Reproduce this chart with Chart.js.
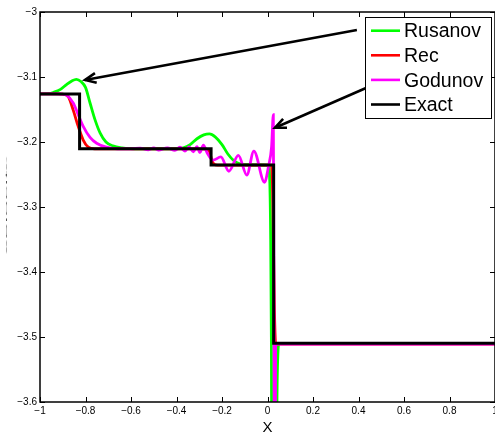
<!DOCTYPE html>
<html><head><meta charset="utf-8">
<script src="https://cdn.jsdelivr.net/npm/chart.js@4/dist/chart.umd.min.js"></script>
<style>
html,body{margin:0;padding:0;overflow:hidden;background:#fff;width:495px;height:439px}
#wrap{width:520px;height:439px;position:relative}
</style>
</head><body><div id="wrap"><canvas id="c" width="520" height="439"></canvas></div>
<script>
// ---- data ----
const seriesNames = ['Rusanov', 'Rec', 'Godunov', 'Exact'];
const seriesColors = ['#00ff00', '#ff0000', '#ff00ff', '#000000'];

const rusanovX = [-1,-0.96,-0.94,-0.91,-0.885,-0.86,-0.84,-0.82,-0.80,-0.78,-0.758,-0.736,-0.71,-0.68,-0.64,-0.56,-0.40,-0.37,-0.34,-0.31,-0.28,-0.255,-0.23,-0.20,-0.175,-0.15,-0.125,-0.09,0.004,0.01,0.014,0.017,0.019,0.038,0.043,0.05,1];
const rusanovY = [-3.1255,-3.1253,-3.1235,-3.119,-3.112,-3.106,-3.1035,-3.107,-3.116,-3.140,-3.166,-3.186,-3.200,-3.206,-3.209,-3.2105,-3.2105,-3.209,-3.204,-3.195,-3.189,-3.1875,-3.192,-3.204,-3.218,-3.228,-3.233,-3.235,-3.2355,-3.26,-3.35,-3.50,-3.70,-3.70,-3.56,-3.51,-3.51];

const recX = [-1,-0.92,-0.90,-0.876,-0.854,-0.832,-0.81,-0.788,-0.76,-0.30,-0.27,-0.255,-0.245,-0.235,-0.22,0.018,0.024,0.030,0.036,1];
const recY = [-3.126,-3.126,-3.1265,-3.130,-3.151,-3.176,-3.197,-3.208,-3.2105,-3.2105,-3.211,-3.215,-3.228,-3.234,-3.2355,-3.2355,-3.30,-3.45,-3.511,-3.511];

const godunovX = [-1,-0.93,-0.90,-0.883,-0.854,-0.832,-0.81,-0.78,-0.751,-0.707,-0.66,-0.60,-0.56,-0.524,-0.50,-0.48,-0.44,-0.407,-0.385,-0.363,-0.345,-0.326,-0.31,-0.297,-0.282,-0.265,-0.24,-0.205,-0.17,-0.128,-0.091,-0.06,-0.013,0.004,0.018,0.0256,0.028,0.030,0.034,0.036,1];
const godunovY = [-3.126,-3.126,-3.1265,-3.128,-3.140,-3.158,-3.176,-3.193,-3.202,-3.208,-3.2105,-3.2105,-3.2095,-3.212,-3.209,-3.2125,-3.209,-3.213,-3.208,-3.214,-3.2075,-3.215,-3.207,-3.216,-3.205,-3.217,-3.228,-3.223,-3.245,-3.2205,-3.251,-3.214,-3.262,-3.238,-3.207,-3.158,-3.40,-3.70,-3.70,-3.511,-3.511];

const exactX = [-1,-0.826,-0.826,-0.248,-0.248,0.027,0.027,1];
const exactY = [-3.126,-3.126,-3.2105,-3.2105,-3.2354,-3.2354,-3.5097,-3.5097];

const xTicks = [-1,-0.8,-0.6,-0.4,-0.2,0,0.2,0.4,0.6,0.8,1];
const yTicks = [-3,-3.1,-3.2,-3.3,-3.4,-3.5,-3.6];
const xTitle = 'X';
const yTitle = 'velocity';

// annotation arrows (data coordinates): tail -> head
const arrowTailX = [0.393, 0.433];
const arrowTailY = [-3.0277, -3.117];
const arrowHeadX = [-0.802, 0.033];
const arrowHeadY = [-3.1046, -3.178];

// ---- build ----
const allX = [rusanovX, recX, godunovX, exactX];
const allY = [rusanovY, recY, godunovY, exactY];
const fmt = v => { const r = Math.round(v * 10) / 10; return (r < 0 ? '\u2212' : '') + String(Math.abs(r)); };
const FONT = '"Liberation Sans", Arial, sans-serif';

const datasets = seriesNames.map((name, i) => ({
  label: name,
  data: allX[i].map((x, j) => ({ x, y: allY[i][j] })),
  borderColor: seriesColors[i],
  backgroundColor: seriesColors[i],
  borderWidth: i === 3 ? 3 : 2.8,
  pointRadius: 0,
  fill: false,
  clip: 0,
  cubicInterpolationMode: i === 3 ? 'default' : 'monotone',
  tension: 0,
  order: 4 - i
}));

const framePlugin = {
  id: 'frame',
  afterDatasetsDraw(chart) {
    const { ctx, chartArea: a, scales } = chart;
    ctx.save();
    ctx.strokeStyle = '#000';
    ctx.lineWidth = 1.5;
    ctx.strokeRect(a.left, a.top, a.right - a.left, a.bottom - a.top);
    ctx.lineWidth = 1;
    const tl = 5;
    scales.x.ticks.forEach(t => {
      const px = Math.round(scales.x.getPixelForValue(t.value)) + 0.5;
      ctx.beginPath();
      ctx.moveTo(px, a.bottom); ctx.lineTo(px, a.bottom - tl);
      ctx.moveTo(px, a.top); ctx.lineTo(px, a.top + tl);
      ctx.stroke();
    });
    scales.y.ticks.forEach(t => {
      const py = Math.round(scales.y.getPixelForValue(t.value)) + 0.5;
      ctx.beginPath();
      ctx.moveTo(a.left, py); ctx.lineTo(a.left + tl, py);
      ctx.moveTo(a.right, py); ctx.lineTo(a.right - tl, py);
      ctx.stroke();
    });
    // arrows
    ctx.strokeStyle = '#000';
    ctx.lineWidth = 2.6;
    ctx.lineCap = 'butt';
    for (let i = 0; i < arrowTailX.length; i++) {
      const x0 = scales.x.getPixelForValue(arrowTailX[i]), y0 = scales.y.getPixelForValue(arrowTailY[i]);
      const x1 = scales.x.getPixelForValue(arrowHeadX[i]), y1 = scales.y.getPixelForValue(arrowHeadY[i]);
      const ang = Math.atan2(y1 - y0, x1 - x0);
      ctx.beginPath(); ctx.moveTo(x0, y0); ctx.lineTo(x1, y1); ctx.stroke();
      const hl = 12, ha = 0.42;
      ctx.beginPath();
      ctx.moveTo(x1 - hl * Math.cos(ang - ha), y1 - hl * Math.sin(ang - ha));
      ctx.lineTo(x1, y1);
      ctx.lineTo(x1 - hl * Math.cos(ang + ha), y1 - hl * Math.sin(ang + ha));
      ctx.stroke();
    }
    ctx.restore();
  },
  afterDraw(chart) {
    const { ctx } = chart;
    ctx.save();
    // legend box
    const L = { x: 365, y: 17, w: 126, h: 101 };
    ctx.fillStyle = '#fff';
    ctx.fillRect(L.x, L.y, L.w, L.h);
    ctx.strokeStyle = '#000';
    ctx.lineWidth = 1;
    ctx.strokeRect(L.x + 0.5, L.y + 0.5, L.w, L.h);
    ctx.font = '19.5px ' + FONT;
    ctx.textBaseline = 'alphabetic';
    ctx.textAlign = 'left';
    chart.data.datasets.forEach((ds, i) => {
      const base = L.y + 20.3 + i * 24.6;
      const ly = base - 6.6;
      ctx.strokeStyle = ds.borderColor;
      ctx.lineWidth = 2.6;
      ctx.beginPath(); ctx.moveTo(371, ly); ctx.lineTo(400, ly); ctx.stroke();
      ctx.fillStyle = '#000';
      ctx.fillText(ds.label, 404, base);
    });
    // squeezed y-axis title (as in reference)
    ctx.translate(7, 205);
    ctx.rotate(-Math.PI / 2);
    ctx.font = '12px ' + FONT;
    const w = ctx.measureText(yTitle).width;
    ctx.scale(98 / w, 0.15);
    ctx.fillStyle = '#555';
    ctx.textAlign = 'center';
    ctx.textBaseline = 'middle';
    ctx.fillText(yTitle, 0, 0);
    ctx.restore();
  }
};

new Chart(document.getElementById('c'), {
  type: 'line',
  data: { datasets },
  options: {
    responsive: false,
    animation: false,
    devicePixelRatio: 1,
    layout: { padding: { left: 0, right: 25, top: 12, bottom: 0 } },
    plugins: { legend: { display: false }, tooltip: { enabled: false } },
    scales: {
      x: {
        type: 'linear', min: -1, max: 1,
        afterBuildTicks: s => { s.ticks = xTicks.map(v => ({ value: v })); },
        afterFit: s => { s.height = 37; },
        grid: { display: false, drawTicks: false },
        border: { display: false },
        ticks: { padding: 3, color: '#000', font: { family: FONT, size: 10 }, maxRotation: 0, autoSkip: false, callback: v => fmt(v) },
        title: { display: true, text: xTitle, color: '#000', font: { family: FONT, size: 15 }, padding: { top: 0, bottom: 2 } }
      },
      y: {
        type: 'linear', min: -3.6, max: -3,
        afterBuildTicks: s => { s.ticks = yTicks.map(v => ({ value: v })); },
        afterFit: s => { s.width = 40; },
        grid: { display: false, drawTicks: false },
        border: { display: false },
        ticks: { padding: 3, color: '#000', font: { family: FONT, size: 10 }, autoSkip: false, callback: v => fmt(v) }
      }
    }
  },
  plugins: [framePlugin]
});
</script>
</body></html>
